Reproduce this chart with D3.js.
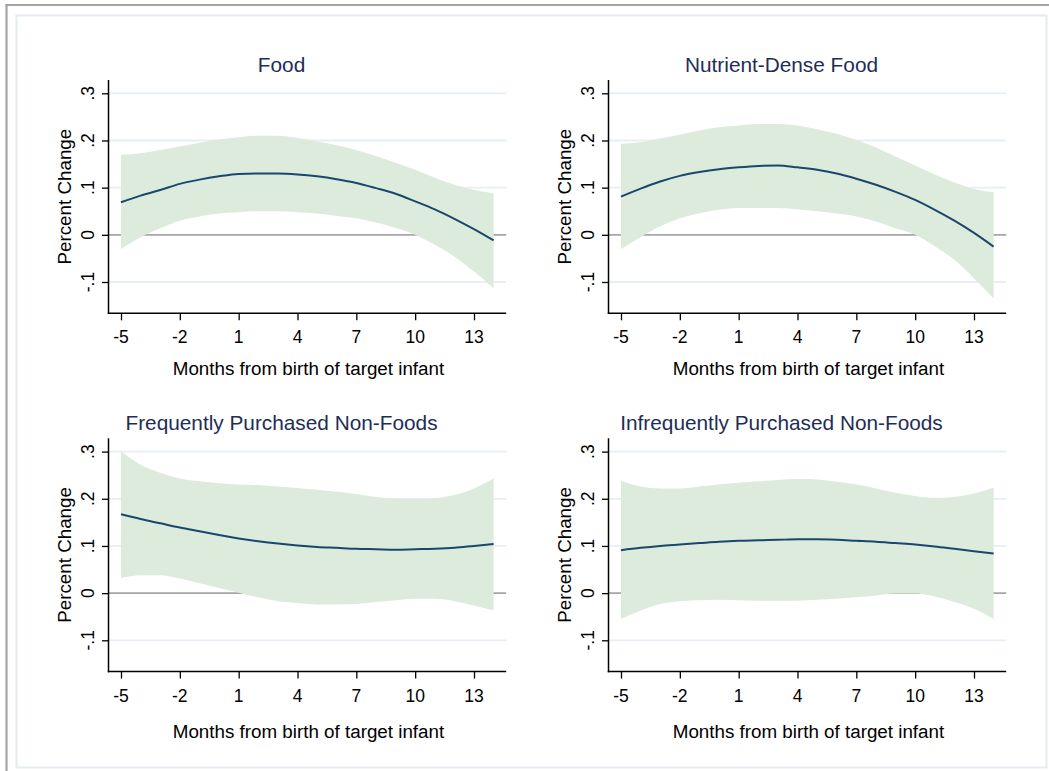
<!DOCTYPE html>
<html>
<head>
<meta charset="utf-8">
<script src="https://cdn.jsdelivr.net/npm/d3@7"></script>
<style>
  html, body { margin: 0; padding: 0; background: #ffffff; }
  svg { display: block; font-family: "Liberation Sans", Arial, sans-serif; }
</style>
</head>
<body>
<svg id="chart" width="1049" height="771"></svg>
<script>
// ---- Data ----
const panelTitles = ["Food", "Nutrient-Dense Food", "Frequently Purchased Non-Foods", "Infrequently Purchased Non-Foods"];
const months = [-5,-4,-3,-2,-1,0,1,2,3,4,5,6,7,8,9,10,11,12,13,14];
const xTickValues = [-5,-2,1,4,7,10,13];
const yTickValues = [-0.1, 0, 0.1, 0.2, 0.3];
const yTickLabels = ["-.1", "0", ".1", ".2", ".3"];
const xAxisTitle = "Months from birth of target infant";
const yAxisTitle = "Percent Change";

const foodEst = [.069,.083,.095,.108,.117,.124,.129,.130,.130,.128,.124,.118,.110,.099,.087,.071,.054,.034,.012,-.012];
const foodHi  = [.170,.173,.180,.187,.195,.202,.207,.210,.210,.205,.198,.190,.180,.167,.153,.138,.121,.106,.095,.088];
const foodLo  = [-.030,-.005,.014,.030,.039,.045,.048,.050,.050,.048,.045,.040,.035,.026,.015,.000,-.021,-.046,-.078,-.113];

const nutrEst = [.081,.098,.113,.125,.133,.139,.143,.146,.147,.143,.138,.130,.119,.106,.091,.074,.053,.030,.004,-.025];
const nutrHi  = [.193,.196,.204,.212,.221,.228,.232,.235,.235,.232,.224,.214,.201,.185,.166,.147,.128,.111,.097,.090];
const nutrLo  = [-.030,-.005,.018,.035,.046,.053,.057,.057,.057,.054,.050,.045,.039,.028,.014,.000,-.024,-.053,-.092,-.135];

const freqEst = [.167,.157,.148,.139,.131,.123,.116,.110,.105,.101,.098,.096,.094,.093,.092,.093,.094,.096,.100,.104];
const freqHi  = [.300,.272,.255,.243,.237,.233,.230,.229,.226,.223,.219,.215,.210,.204,.200,.199,.201,.208,.222,.243];
const freqLo  = [.032,.038,.038,.031,.021,.011,.001,-.009,-.017,-.021,-.024,-.024,-.023,-.019,-.015,-.012,-.012,-.017,-.026,-.037];

const infrEst = [.091,.096,.100,.103,.106,.109,.111,.112,.113,.114,.114,.113,.111,.109,.106,.103,.099,.094,.089,.084];
const infrHi  = [.238,.226,.222,.222,.226,.231,.234,.237,.240,.242,.241,.236,.230,.222,.213,.206,.202,.204,.211,.224];
const infrLo  = [-.055,-.037,-.023,-.017,-.015,-.014,-.015,-.016,-.016,-.016,-.014,-.012,-.009,-.005,-.001,-.001,-.007,-.019,-.033,-.055];

const seriesEst = [foodEst, nutrEst, freqEst, infrEst];
const seriesHi  = [foodHi, nutrHi, freqHi, infrHi];
const seriesLo  = [foodLo, nutrLo, freqLo, infrLo];

// ---- Layout ----
const svg = d3.select("#chart");
const W = 1049, H = 771;
const plotW = 397.7, plotH = 233.3;
const panelX = [108.5, 608.5];
const panelY = [80, 438.3];
const axisTitleY = [375, 738];
const titleY = [72, 430];

const colors = {
  frame: "#a4a4a4",
  inner: "#e4ecf0",
  grid: "#e6eff3",
  zero: "#a6a6a6",
  band: "#dcebdc",
  line: "#1a476f",
  title: "#1e2d57",
  text: "#000000"
};

// Outer frame
svg.append("rect").attr("x", 0).attr("y", 0).attr("width", W).attr("height", H).attr("fill", "#fff");
svg.append("line").attr("x1", 5.5).attr("x2", W).attr("y1", 5).attr("y2", 5)
  .attr("stroke", colors.frame).attr("stroke-width", 2.2);
svg.append("line").attr("x1", 6.5).attr("x2", 6.5).attr("y1", 4).attr("y2", H)
  .attr("stroke", colors.frame).attr("stroke-width", 2.2);
svg.append("rect").attr("x", 16.5).attr("y", 15.5).attr("width", 1030).attr("height", 752)
  .attr("fill", "none").attr("stroke", colors.inner).attr("stroke-width", 2);

panelTitles.forEach((title, i) => {
  const col = i % 2, row = Math.floor(i / 2);
  const x0 = panelX[col], y0 = panelY[row];
  const g = svg.append("g");

  const x = d3.scaleLinear().domain([-5, 13]).range([x0 + 12.5, x0 + 365.5]);
  const y = d3.scaleLinear().domain([-0.1, 0.3]).range([y0 + 202, y0 + 13.3]);

  // Grid lines
  yTickValues.forEach(v => {
    g.append("line")
      .attr("x1", x0).attr("x2", x0 + plotW)
      .attr("y1", y(v)).attr("y2", y(v))
      .attr("stroke", v === 0 ? colors.zero : colors.grid)
      .attr("stroke-width", v === 0 ? 1.6 : 1.8);
  });

  const pts = months.map((m, k) => ({ m, est: seriesEst[i][k], lo: seriesLo[i][k], hi: seriesHi[i][k] }));

  // Confidence band
  const area = d3.area()
    .x(d => x(d.m))
    .y0(d => y(d.lo))
    .y1(d => y(d.hi))
    .curve(d3.curveMonotoneX);
  g.append("path").datum(pts).attr("d", area).attr("fill", colors.band);

  // Estimate line
  const line = d3.line()
    .x(d => x(d.m))
    .y(d => y(d.est))
    .curve(d3.curveMonotoneX);
  g.append("path").datum(pts).attr("d", line)
    .attr("fill", "none").attr("stroke", colors.line).attr("stroke-width", 2);

  // Y axis
  const yAxis = d3.axisLeft(y).tickValues(yTickValues)
    .tickFormat((d, k) => yTickLabels[k]).tickSize(6.5).tickPadding(0);
  const ya = g.append("g").attr("transform", `translate(${x0},0)`).call(yAxis);
  ya.select(".domain").remove();
  ya.selectAll(".tick line").attr("stroke", "#000").attr("stroke-width", 1.3);
  ya.selectAll(".tick text").remove();
  yTickValues.forEach((v, k) => {
    g.append("text")
      .attr("transform", `translate(${x0 - 15},${y(v)}) rotate(-90)`)
      .attr("text-anchor", "middle")
      .attr("font-size", 17.5)
      .attr("fill", colors.text)
      .text(yTickLabels[k]);
  });
  g.append("line").attr("x1", x0).attr("x2", x0).attr("y1", y0).attr("y2", y0 + plotH + 0.7)
    .attr("stroke", "#000").attr("stroke-width", 1.5);

  // X axis
  const xAxis = d3.axisBottom(x).tickValues(xTickValues).tickSize(7).tickPadding(0);
  const xa = g.append("g").attr("transform", `translate(0,${y0 + plotH})`).call(xAxis);
  xa.select(".domain").remove();
  xa.selectAll(".tick line").attr("stroke", "#000").attr("stroke-width", 1.3);
  xa.selectAll(".tick text").remove();
  xTickValues.forEach(v => {
    g.append("text")
      .attr("x", x(v)).attr("y", y0 + plotH + 30)
      .attr("text-anchor", "middle")
      .attr("font-size", 17.5)
      .attr("fill", colors.text)
      .text(String(v));
  });
  g.append("line").attr("x1", x0 - 0.7).attr("x2", x0 + plotW).attr("y1", y0 + plotH).attr("y2", y0 + plotH)
    .attr("stroke", "#000").attr("stroke-width", 1.5);

  // Axis titles
  g.append("text")
    .attr("x", x0 + 200).attr("y", axisTitleY[row])
    .attr("text-anchor", "middle")
    .attr("font-size", 18.8)
    .attr("fill", colors.text)
    .text(xAxisTitle);
  g.append("text")
    .attr("transform", `translate(${x0 - 37.5},${y0 + plotH / 2}) rotate(-90)`)
    .attr("text-anchor", "middle")
    .attr("font-size", 18.8)
    .attr("fill", colors.text)
    .text(yAxisTitle);

  // Panel title
  g.append("text")
    .attr("x", x0 + 173).attr("y", titleY[row])
    .attr("text-anchor", "middle")
    .attr("font-size", 20.8)
    .attr("fill", colors.title)
    .text(title);
});
</script>
</body>
</html>
